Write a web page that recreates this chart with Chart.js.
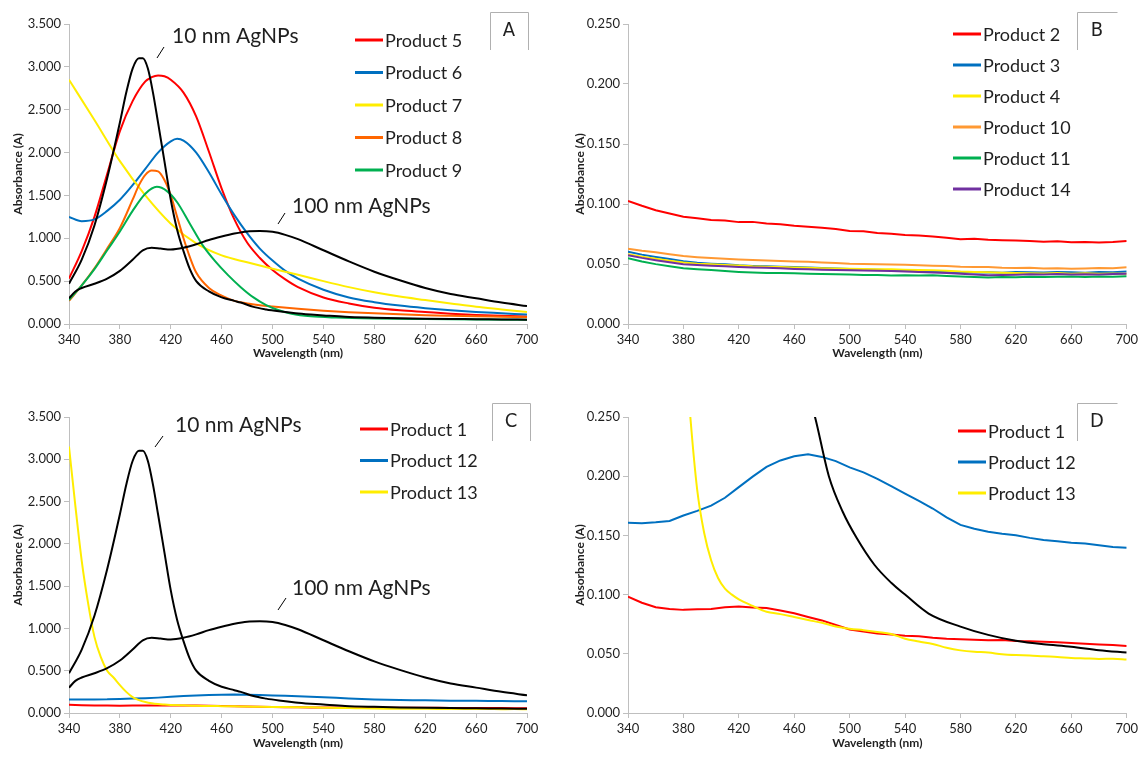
<!DOCTYPE html>
<html>
<head>
<meta charset="utf-8">
<script src="https://cdn.jsdelivr.net/npm/chart.js@4.4.1/dist/chart.umd.min.js"></script>
<style>
  body { margin: 0; background: #fff; width: 1141px; height: 763px; overflow: hidden; position: relative; }
  canvas { position: absolute; }
</style>
</head>
<body>
<canvas id="panelA" width="570" height="381" style="left:0;top:0"></canvas>
<canvas id="panelB" width="571" height="381" style="left:570px;top:0"></canvas>
<canvas id="panelC" width="570" height="382" style="left:0;top:381px"></canvas>
<canvas id="panelD" width="571" height="382" style="left:570px;top:381px"></canvas>
<script>
// ---------- DATOS ----------

// eje X comun
const wlTicks = [340, 380, 420, 460, 500, 540, 580, 620, 660, 700];

// rejilla de 10 nm para las series con ruido (B y D)
const wlGrid = [340,350,360,370,380,390,400,410,420,430,440,450,460,470,480,490,500,510,520,530,540,550,560,570,580,590,600,610,620,630,640,650,660,670,680,690,700];

// 10 nm AgNPs
const wl10nm  = [340,350,360,370,380,385,390,395,398,402,406,410,415,420,425,430,435,440,450,460,470,475,485,495,505,518,530,540,557,580,600,620,640,660,680,700];
const abs10nm = [0.47,0.75,1.15,1.7,2.35,2.7,2.98,3.1,3.1,2.98,2.7,2.35,1.9,1.45,1.1,0.85,0.64,0.5,0.38,0.31,0.27,0.25,0.2,0.17,0.148,0.125,0.11,0.1,0.084,0.073,0.066,0.061,0.058,0.056,0.053,0.051];

// 100 nm AgNPs
const wl100nm  = [340,345,350,360,370,380,390,398,405,412,420,430,440,450,460,470,480,490,500,510,520,540,560,580,600,620,640,660,680,700];
const abs100nm = [0.3,0.38,0.42,0.47,0.53,0.62,0.75,0.86,0.89,0.88,0.87,0.89,0.93,0.98,1.02,1.055,1.08,1.085,1.075,1.04,0.99,0.86,0.73,0.61,0.51,0.42,0.35,0.3,0.25,0.21];

// panel A
const wlP5  = [340,350,360,370,380,390,400,405,410,415,420,430,440,450,460,470,480,490,500,510,520,540,560,580,600,620,640,660,680,700];
const absP5 = [0.53,0.85,1.25,1.75,2.25,2.6,2.83,2.88,2.9,2.89,2.85,2.7,2.42,2.01,1.58,1.22,0.95,0.77,0.63,0.52,0.43,0.31,0.24,0.19,0.16,0.14,0.12,0.105,0.095,0.088];

const wlP6  = [340,350,360,370,380,390,400,410,420,425,430,440,450,460,470,480,490,500,510,520,540,560,580,600,620,640,660,680,700];
const absP6 = [1.25,1.2,1.22,1.32,1.45,1.62,1.81,2.0,2.13,2.16,2.14,2.0,1.77,1.51,1.27,1.06,0.88,0.74,0.62,0.53,0.4,0.31,0.255,0.215,0.185,0.16,0.14,0.125,0.11];

const wlP7  = [340,360,380,400,420,440,460,480,500,520,540,560,580,600,620,640,660,680,700];
const absP7 = [2.85,2.38,1.9,1.5,1.17,0.94,0.8,0.72,0.645,0.575,0.5,0.43,0.37,0.32,0.28,0.24,0.2,0.17,0.14];

const wlP8  = [340,350,360,370,380,390,395,400,405,410,415,420,425,430,435,440,450,460,470,480,490,500,520,540,560,580,600,620,640,660,680,700];
const absP8 = [0.27,0.45,0.65,0.88,1.12,1.45,1.62,1.74,1.79,1.78,1.68,1.5,1.25,1.0,0.78,0.6,0.42,0.33,0.27,0.24,0.22,0.205,0.178,0.156,0.138,0.125,0.113,0.103,0.096,0.09,0.085,0.08];

const wlP9  = [340,350,360,370,380,390,400,409,417,425,435,445,455,465,475,485,495,505,515,530,550,580,620,660,700];
const absP9 = [0.28,0.45,0.64,0.86,1.08,1.32,1.52,1.6,1.55,1.42,1.17,0.92,0.73,0.57,0.43,0.31,0.22,0.16,0.12,0.09,0.075,0.064,0.057,0.052,0.05];

// panel B (rejilla wlGrid)
const absP2  = [0.1025,0.0985,0.0948,0.0921,0.0893,0.0882,0.0866,0.0862,0.0849,0.0851,0.0838,0.0832,0.0819,0.0811,0.0803,0.0791,0.0775,0.0772,0.0758,0.0752,0.0741,0.0738,0.0729,0.0718,0.0707,0.0711,0.0702,0.0698,0.0696,0.0691,0.0686,0.0689,0.0681,0.0684,0.0679,0.0683,0.0692];
const absP3  = [0.0602,0.0578,0.0559,0.0542,0.0523,0.0511,0.0503,0.0497,0.0489,0.0484,0.0481,0.0478,0.0474,0.0471,0.0466,0.0462,0.0458,0.0455,0.0452,0.0447,0.0446,0.0442,0.0439,0.0436,0.0431,0.0429,0.0432,0.0428,0.0433,0.0431,0.0429,0.0434,0.0432,0.0428,0.0433,0.0431,0.0437];
const absP4  = [0.0582,0.0561,0.0543,0.0527,0.0512,0.0503,0.0497,0.0492,0.0487,0.0481,0.0478,0.0474,0.0471,0.0468,0.0465,0.0463,0.0461,0.0459,0.0457,0.0456,0.0452,0.0449,0.0447,0.0444,0.0437,0.0433,0.0431,0.0427,0.0425,0.0423,0.0421,0.0424,0.0419,0.0422,0.0418,0.0421,0.0419];
const absP10 = [0.0628,0.0611,0.0597,0.0581,0.0566,0.0557,0.0549,0.0543,0.0538,0.0533,0.0529,0.0526,0.0521,0.0518,0.0513,0.0509,0.0503,0.0501,0.0498,0.0496,0.0493,0.0489,0.0486,0.0484,0.0478,0.0475,0.0474,0.0469,0.0467,0.0468,0.0462,0.0465,0.0461,0.0463,0.0466,0.0464,0.0472];
const absP11 = [0.0548,0.0521,0.0499,0.0482,0.0465,0.0457,0.0449,0.0441,0.0434,0.0429,0.0426,0.0424,0.0422,0.0419,0.0417,0.0414,0.0412,0.0409,0.0408,0.0405,0.0407,0.0404,0.0406,0.0401,0.0396,0.0391,0.0388,0.0392,0.0389,0.0394,0.0391,0.0393,0.0395,0.0391,0.0396,0.0393,0.0398];
const absP14 = [0.0574,0.0551,0.0532,0.0514,0.0498,0.0491,0.0486,0.0481,0.0475,0.0471,0.0468,0.0464,0.0459,0.0456,0.0453,0.0451,0.0447,0.0445,0.0443,0.0441,0.0438,0.0434,0.0429,0.0425,0.0418,0.0412,0.0407,0.0409,0.0411,0.0414,0.0412,0.0416,0.0413,0.0415,0.0412,0.0416,0.0418];

// paneles C y D
const absP1  = [0.0982,0.0931,0.0893,0.0878,0.0871,0.0876,0.0879,0.0894,0.0899,0.0891,0.0887,0.0866,0.0842,0.0811,0.0782,0.0743,0.0706,0.0689,0.0671,0.0662,0.0652,0.0648,0.0636,0.0627,0.0622,0.0619,0.0615,0.0617,0.0609,0.0606,0.0601,0.0598,0.0591,0.0584,0.0578,0.0574,0.0566];
const absP12 = [0.1606,0.1603,0.1611,0.1622,0.1668,0.1707,0.1752,0.1818,0.1908,0.1996,0.2078,0.2133,0.2168,0.2186,0.2163,0.2127,0.2074,0.2032,0.1978,0.1916,0.1852,0.1791,0.1727,0.1653,0.1589,0.1556,0.1531,0.1514,0.1502,0.1479,0.1462,0.1451,0.1438,0.1431,0.1417,0.1402,0.1396];
const wlP13  = [340,345,350,355,360,365,370,375,380,385,390,395,400,405,410,415,420,430,440,450,460,470,480,490,500,510,520,530,540,550,560,570,580,590,600,610,620,630,640,650,660,670,680,690,700];
const absP13 = [3.15,2.45,1.8,1.3,0.9,0.66,0.5,0.42,0.33,0.25,0.188,0.152,0.129,0.114,0.105,0.1,0.096,0.0905,0.0855,0.0835,0.081,0.0785,0.0762,0.0731,0.0712,0.0699,0.0684,0.0668,0.0627,0.0604,0.0583,0.0551,0.0529,0.0517,0.0511,0.0496,0.0489,0.0486,0.0479,0.0474,0.0465,0.0461,0.0457,0.0459,0.0452];

// ---------- COLORES ----------
const RED = '#ff0000', BLUE = '#0070c0', YELLOW = '#ffed00', ORANGE = '#ff6600',
      LORANGE = '#ff9933', GREEN = '#00b050', PURPLE = '#7030a0', BLACK = '#000000';
const TXT = '#1f1f1f';
const AXIS = '#bfbfbf';

// ---------- HELPERS ----------
function serie(label, xs, ys, color, smooth, inLegend) {
    return {
        label: label,
        data: xs.map((x, i) => ({ x: x, y: ys[i] })),
        borderColor: color,
        backgroundColor: color,
        borderWidth: 2,
        pointRadius: 0,
        fill: false,
        tension: 0,
        cubicInterpolationMode: smooth ? 'monotone' : 'default',
        inLegend: inLegend
    };
}

// leyenda, recuadro con letra y etiquetas de las nanoparticulas
const decoPlugin = {
    id: 'deco',
    afterDraw(chart, args, o) {
        const ctx = chart.ctx;
        ctx.save();
        // leyenda
        const items = chart.data.datasets.filter(d => d.inLegend);
        ctx.font = '18px Lato, "Open Sans", sans-serif';
        ctx.textBaseline = 'middle';
        items.forEach((d, i) => {
            const y = o.legendY + i * o.rowGap;
            ctx.strokeStyle = d.borderColor;
            ctx.lineWidth = 3;
            ctx.beginPath();
            ctx.moveTo(o.legendX, y);
            ctx.lineTo(o.legendX + 28, y);
            ctx.stroke();
            ctx.fillStyle = TXT;
            ctx.fillText(d.label, o.legendX + 30, y + 1);
        });
        // recuadro con letra
        ctx.strokeStyle = '#b0b0b0';
        ctx.lineWidth = 1;
        ctx.beginPath();
        ctx.moveTo(o.box[0] + 0.5, o.box[1] + o.box[3]);
        ctx.lineTo(o.box[0] + 0.5, o.box[1] + 0.5);
        ctx.lineTo(o.box[0] + o.box[2] + 0.5, o.box[1] + 0.5);
        if (o.boxRight) ctx.lineTo(o.box[0] + o.box[2] + 0.5, o.box[1] + o.box[3]);
        ctx.stroke();
        ctx.fillStyle = TXT;
        ctx.font = '20px "Liberation Sans Narrow", "DejaVu Sans Condensed", sans-serif';
        ctx.textAlign = 'center';
        ctx.fillText(o.letter, o.box[0] + o.box[2] / 2, o.box[1] + o.box[3] / 2);
        // notas
        ctx.textAlign = 'left';
        ctx.font = '21px Lato, "Open Sans", sans-serif';
        (o.notes || []).forEach(n => {
            ctx.strokeStyle = '#000';
            ctx.lineWidth = 1;
            ctx.beginPath();
            ctx.moveTo(n.line[0], n.line[1]);
            ctx.lineTo(n.line[2], n.line[3]);
            ctx.stroke();
            ctx.fillText(n.text, n.tx, n.ty);
        });
        ctx.restore();
    }
};

function crearPanel(id, datasets, yMax, yStep, pad, yWidth, xHeight, yTitlePad, xTitlePad, deco) {
    // las series posteriores se dibujan encima (como en Excel)
    datasets.forEach((d, i) => { d.order = -i; });
    new Chart(document.getElementById(id), {
        type: 'line',
        data: { datasets: datasets },
        options: {
            responsive: false,
            animation: false,
            devicePixelRatio: 1,
            layout: { padding: pad },
            plugins: { legend: { display: false }, tooltip: { enabled: false }, deco: deco },
            scales: {
                x: {
                    type: 'linear', min: 340, max: 700,
                    afterBuildTicks: s => { s.ticks = wlTicks.map(v => ({ value: v })); },
                    afterFit: s => { s.height = xHeight; },
                    grid: { drawOnChartArea: false, drawTicks: true, tickLength: 5, color: AXIS },
                    border: { color: AXIS },
                    ticks: { color: TXT, padding: 3, maxRotation: 0, font: { family: 'Lato', size: 13 } },
                    title: { display: true, text: 'Wavelength (nm)', color: TXT,
                             font: { family: 'Lato', size: 12, weight: 'bold' }, padding: { top: 0, bottom: xTitlePad } }
                },
                y: {
                    min: 0, max: yMax,
                    ticks: { stepSize: yStep, color: TXT, padding: 3, font: { family: 'Lato', size: 13 },
                             callback: v => v.toFixed(3) },
                    afterFit: s => { s.width = yWidth; },
                    grid: { drawOnChartArea: false, drawTicks: true, tickLength: 5, color: AXIS },
                    border: { color: AXIS },
                    title: { display: true, text: 'Absorbance (A)', color: TXT,
                             font: { family: 'Lato', size: 12, weight: 'bold' }, padding: { top: yTitlePad, bottom: 0 } }
                }
            }
        },
        plugins: [decoPlugin]
    });
}

// ---------- PANEL A ----------
crearPanel('panelA', [
    serie('Product 5', wlP5, absP5, RED, true, true),
    serie('Product 6', wlP6, absP6, BLUE, true, true),
    serie('Product 7', wlP7, absP7, YELLOW, true, true),
    serie('Product 8', wlP8, absP8, ORANGE, true, true),
    serie('Product 9', wlP9, absP9, GREEN, true, true),
    serie('100 nm AgNPs', wl100nm, abs100nm, BLACK, true, false),
    serie('10 nm AgNPs', wl10nm, abs10nm, BLACK, true, false)
], 3.5, 0.5, { left: 4, right: 43, top: 24, bottom: 7 }, 65, 50, 7, 14, {
    legendX: 355, legendY: 40, rowGap: 32.5, letter: 'A', box: [490, 12, 38, 38], boxRight: true,
    notes: [
        { text: '10 nm AgNPs', tx: 172, ty: 36, line: [157, 58, 164, 47] },
        { text: '100 nm AgNPs', tx: 292, ty: 206, line: [278, 224, 285, 213] }
    ]
});

// ---------- PANEL B ----------
crearPanel('panelB', [
    serie('Product 2', wlGrid, absP2, RED, false, true),
    serie('Product 3', wlGrid, absP3, BLUE, false, true),
    serie('Product 4', wlGrid, absP4, YELLOW, false, true),
    serie('Product 10', wlGrid, absP10, LORANGE, false, true),
    serie('Product 11', wlGrid, absP11, GREEN, false, true),
    serie('Product 14', wlGrid, absP14, PURPLE, false, true)
], 0.25, 0.05, { left: 2, right: 14, top: 24, bottom: 7 }, 56, 50, 1, 14, {
    legendX: 383, legendY: 34, rowGap: 31, letter: 'B', box: [507, 12, 40, 38], boxRight: false
});

// ---------- PANEL C ----------
crearPanel('panelC', [
    serie('Product 1', wlGrid, absP1, RED, false, true),
    serie('Product 12', wlGrid, absP12, BLUE, false, true),
    serie('Product 13', wlP13, absP13, YELLOW, true, true),
    serie('100 nm AgNPs', wl100nm, abs100nm, BLACK, true, false),
    serie('10 nm AgNPs', wl10nm, abs10nm, BLACK, true, false)
], 3.5, 0.5, { left: 4, right: 43, top: 36, bottom: 5 }, 65, 45, 7, 8, {
    legendX: 360, legendY: 48, rowGap: 31.5, letter: 'C', box: [492, 22, 38, 38], boxRight: true,
    notes: [
        { text: '10 nm AgNPs', tx: 175, ty: 44, line: [155, 66, 163, 55] },
        { text: '100 nm AgNPs', tx: 292, ty: 207, line: [278, 229, 286, 217] }
    ]
});

// ---------- PANEL D ----------
crearPanel('panelD', [
    serie('Product 1', wlGrid, absP1, RED, false, true),
    serie('Product 12', wlGrid, absP12, BLUE, false, true),
    serie('Product 13', wlP13, absP13, YELLOW, true, true),
    serie('10 nm AgNPs', wl10nm, abs10nm, BLACK, true, false)
], 0.25, 0.05, { left: 2, right: 14, top: 36, bottom: 5 }, 56, 45, 1, 8, {
    legendX: 388, legendY: 50, rowGap: 31, letter: 'D', box: [507, 22, 40, 38], boxRight: false
});
</script>
</body>
</html>
